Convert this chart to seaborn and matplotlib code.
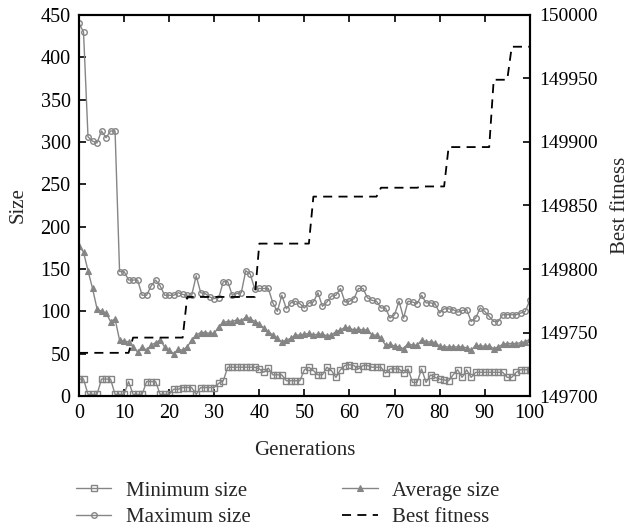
import numpy as np
import pandas as pd
import matplotlib
matplotlib.use("Agg")
import matplotlib.pyplot as plt
import seaborn as sns

generations = list(range(0, 101))

min_size = [20, 20, 2, 2, 2, 20, 20, 20, 2, 2,
            2, 17, 2, 2, 2, 17, 17, 17, 2, 2,
            2, 8, 8, 10, 10, 10, 2, 10, 10, 10,
            10, 15, 18, 34, 34, 34, 34, 34, 34, 34,
            32, 28, 33, 25, 25, 25, 18, 18, 18, 18,
            31, 34, 30, 25, 25, 34, 30, 22, 31, 36,
            37, 36, 32, 36, 36, 34, 34, 34, 27, 32,
            32, 32, 27, 32, 16, 16, 32, 16, 25, 22,
            20, 19, 18, 25, 31, 22, 31, 22, 28, 28,
            28, 28, 28, 28, 28, 22, 22, 28, 31, 31,
            31]

avg_size = [177, 170, 148, 127, 103, 100, 98, 88, 91, 66,
            65, 64, 58, 52, 58, 54, 60, 63, 66, 58,
            54, 50, 55, 54, 58, 66, 72, 75, 75, 74,
            74, 82, 87, 88, 88, 90, 89, 93, 91, 88,
            85, 80, 76, 72, 68, 64, 66, 68, 72, 72,
            73, 74, 72, 73, 73, 71, 72, 76, 78, 81,
            80, 78, 79, 78, 78, 72, 72, 68, 60, 61,
            59, 58, 56, 62, 60, 60, 66, 64, 64, 63,
            59, 58, 58, 58, 58, 58, 57, 54, 60, 59,
            59, 59, 56, 58, 61, 62, 62, 62, 63, 64,
            67]

max_size = [440, 430, 306, 301, 299, 313, 305, 313, 313, 147,
            147, 137, 137, 137, 119, 119, 130, 137, 130, 119,
            119, 119, 122, 120, 119, 119, 142, 122, 121, 117,
            115, 116, 135, 135, 119, 121, 122, 148, 144, 126,
            127, 127, 127, 110, 100, 119, 103, 110, 112, 109,
            104, 110, 111, 122, 106, 111, 118, 119, 127, 111,
            112, 115, 127, 127, 116, 113, 112, 104, 104, 92,
            96, 112, 92, 112, 111, 109, 119, 110, 110, 109,
            98, 103, 103, 102, 99, 101, 102, 88, 92, 104,
            100, 94, 88, 88, 96, 96, 96, 96, 98, 100,
            113]

best_fitness = ([149734] * 12 + [149746] * 12 + [149778] * 16 +
                [149820] * 12 + [149857] * 15 + [149864] * 9 +
                [149865] * 6 + [149896] * 10 + [149949] * 4 +
                [149975] * 5)

labels = ["Minimum size", "Maximum size", "Average size", "Best fitness"]

sns.set_theme(style="ticks")
plt.rcParams["font.family"] = ["Liberation Serif", "DejaVu Serif"]
plt.rcParams["font.size"] = 14

gray = "#858585"

fig = plt.figure(figsize=(6.3, 5.31), dpi=100)
ax = fig.add_axes([0.1254, 0.2542, 0.7155, 0.7176])

df = pd.DataFrame({"gen": generations, "min": min_size, "avg": avg_size,
                   "max": max_size, "best": best_fitness})

sns.lineplot(data=df, x="gen", y="min", ax=ax, color=gray, linewidth=1.0,
             marker="s", markersize=5.5, markerfacecolor="none",
             markeredgecolor=gray, markeredgewidth=1.0, label=labels[0])
sns.lineplot(data=df, x="gen", y="max", ax=ax, color=gray, linewidth=1.0,
             marker="o", markersize=6, markerfacecolor="none",
             markeredgecolor=gray, markeredgewidth=1.0, label=labels[1])
sns.lineplot(data=df, x="gen", y="avg", ax=ax, color=gray, linewidth=1.0,
             marker="^", markersize=5, markerfacecolor=gray,
             markeredgecolor=gray, markeredgewidth=0.8, label=labels[2])

ax2 = ax.twinx()
sns.lineplot(data=df, x="gen", y="best", ax=ax2, color="black",
             linewidth=1.3, label=labels[3])
for ln in ax2.get_lines():
    ln.set_dashes([5, 3.5])

ax.set_xlim(0, 100)
ax.set_ylim(0, 450)
ax2.set_ylim(149700, 150000)
ax.set_xticks(range(0, 101, 10))
ax.set_yticks(range(0, 451, 50))
ax2.set_yticks(range(149700, 150001, 50))

ax.set_xlabel("Generations", fontsize=15, labelpad=13)
ax.set_ylabel("Size", fontsize=15, labelpad=9)
ax2.set_ylabel("Best fitness", fontsize=15, labelpad=9)

ax.tick_params(axis="both", direction="in", length=5, width=1.2,
               labelsize=14.5, top=True, right=False, colors="black", pad=6)
ax2.tick_params(axis="y", direction="in", length=5, width=1.2,
                labelsize=14, colors="black", pad=7)
for a in (ax, ax2):
    for s in a.spines.values():
        s.set_visible(True)
        s.set_linewidth(1.5)
        s.set_color("black")

h1, l1 = ax.get_legend_handles_labels()
h2, l2 = ax2.get_legend_handles_labels()
if ax.get_legend():
    ax.get_legend().remove()
if ax2.get_legend():
    ax2.get_legend().remove()
handles = h1 + h2
for h in handles:
    if h.get_marker() not in (None, "None", ""):
        h.set_markersize(4)
leg = fig.legend(handles, labels, loc="upper center",
                 bbox_to_anchor=(0.457, 0.094),
                 ncol=2, frameon=False, fontsize=15, handlelength=1.7,
                 handletextpad=0.7, columnspacing=4.4, labelspacing=0.32,
                 borderaxespad=0, borderpad=0)

fig.savefig("out.png", dpi=100)
